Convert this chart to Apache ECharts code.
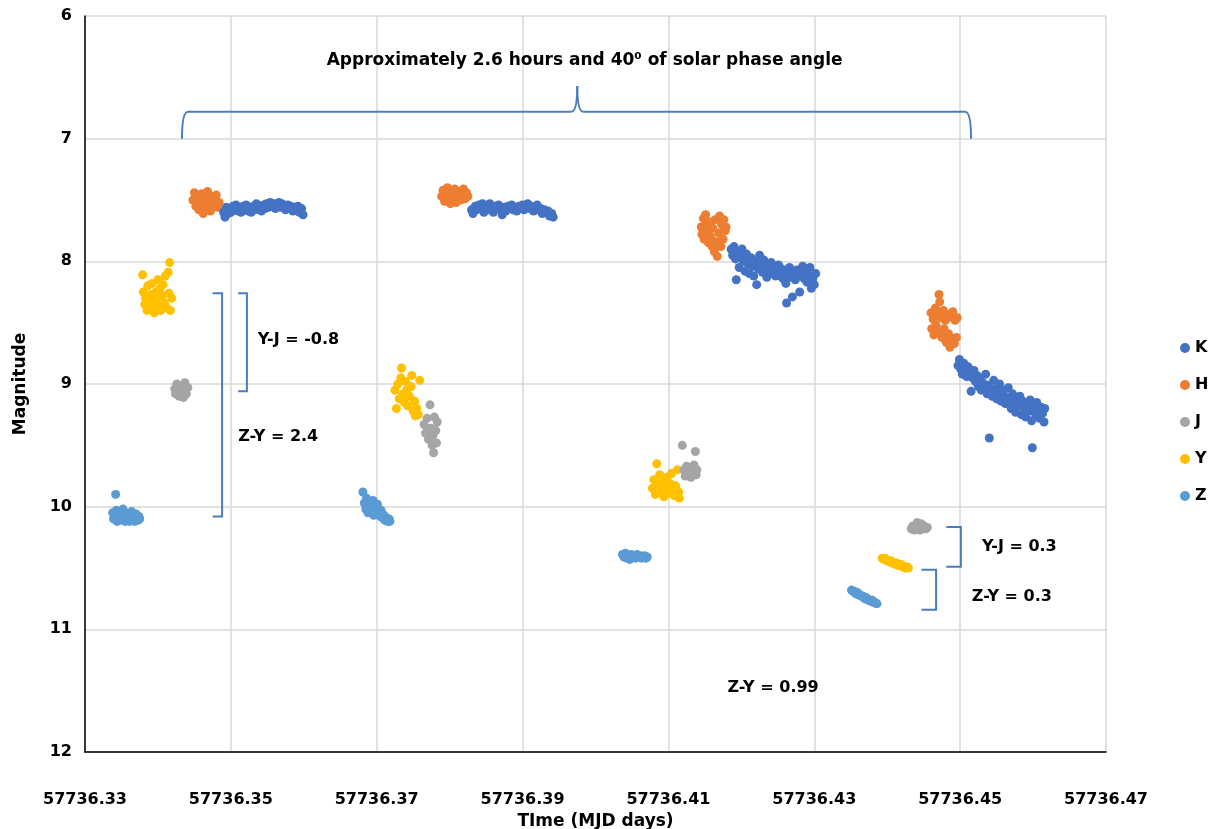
<!DOCTYPE html>
<html>
<head>
<meta charset="utf-8">
<script src="https://cdn.jsdelivr.net/npm/echarts@6/dist/echarts.min.js"></script>
<style>
  html, body { margin: 0; padding: 0; background: #ffffff; }
  #chart { width: 1219px; height: 829px; }
</style>
</head>
<body>
<div id="chart"></div>
<script>
// Time origin for the x axis (MJD); points are plotted as offsets from it.
const MJD_BASE = 57736.33;
const xTickStep = 0.02;
const xSpan = 0.14;
const magMin = 6;
const magMax = 12;

const bandNames = ['K', 'H', 'J', 'Y', 'Z'];
const bandColors = ['#4472C4', '#ED7D31', '#A5A5A5', '#FFC000', '#5B9BD5'];

// [MJD, magnitude]
const K = [
  [57736.3490, 7.60], [57736.3492, 7.64], [57736.3494, 7.56], [57736.3496, 7.61], [57736.3498, 7.57],
  [57736.3500, 7.60], [57736.3503, 7.55], [57736.3505, 7.58], [57736.3507, 7.54], [57736.3510, 7.59],
  [57736.3512, 7.56], [57736.3514, 7.60], [57736.3517, 7.55], [57736.3519, 7.58], [57736.3521, 7.54],
  [57736.3524, 7.59], [57736.3526, 7.56], [57736.3528, 7.60], [57736.3531, 7.55], [57736.3533, 7.58],
  [57736.3535, 7.53], [57736.3538, 7.57], [57736.3540, 7.55], [57736.3542, 7.59], [57736.3545, 7.54],
  [57736.3547, 7.57], [57736.3549, 7.53], [57736.3552, 7.56], [57736.3554, 7.52], [57736.3556, 7.55],
  [57736.3559, 7.53], [57736.3561, 7.57], [57736.3563, 7.54], [57736.3566, 7.52], [57736.3568, 7.56],
  [57736.3570, 7.53], [57736.3573, 7.55], [57736.3575, 7.58], [57736.3578, 7.54], [57736.3580, 7.57],
  [57736.3582, 7.55], [57736.3585, 7.59], [57736.3587, 7.56], [57736.3590, 7.58], [57736.3592, 7.55],
  [57736.3594, 7.60], [57736.3597, 7.57], [57736.3599, 7.62],
  [57736.3830, 7.58], [57736.3832, 7.61], [57736.3835, 7.55], [57736.3837, 7.58], [57736.3840, 7.54],
  [57736.3842, 7.57], [57736.3845, 7.53], [57736.3847, 7.60], [57736.3850, 7.55], [57736.3852, 7.58],
  [57736.3855, 7.53], [57736.3857, 7.56], [57736.3860, 7.60], [57736.3862, 7.55], [57736.3865, 7.57],
  [57736.3867, 7.54], [57736.3870, 7.58], [57736.3872, 7.62], [57736.3875, 7.56], [57736.3877, 7.59],
  [57736.3880, 7.55], [57736.3882, 7.57], [57736.3885, 7.54], [57736.3887, 7.58], [57736.3890, 7.56],
  [57736.3892, 7.59], [57736.3895, 7.55], [57736.3897, 7.57], [57736.3900, 7.54], [57736.3902, 7.58],
  [57736.3905, 7.56], [57736.3907, 7.53], [57736.3910, 7.57], [57736.3912, 7.55], [57736.3915, 7.59],
  [57736.3917, 7.56], [57736.3920, 7.54], [57736.3922, 7.58], [57736.3925, 7.57], [57736.3927, 7.61],
  [57736.3930, 7.58], [57736.3932, 7.60], [57736.3935, 7.59], [57736.3937, 7.63], [57736.3940, 7.61],
  [57736.3942, 7.64],
  [57736.4186, 7.90], [57736.4188, 7.95], [57736.4190, 7.88], [57736.4192, 7.98], [57736.4193, 8.15],
  [57736.4195, 7.92], [57736.4197, 8.05], [57736.4199, 7.96], [57736.4201, 7.90], [57736.4203, 8.00],
  [57736.4205, 8.08], [57736.4207, 7.94], [57736.4209, 8.02], [57736.4211, 8.10], [57736.4213, 7.97],
  [57736.4215, 8.04], [57736.4217, 8.12], [57736.4219, 8.00], [57736.4221, 8.19], [57736.4223, 8.06],
  [57736.4225, 7.95], [57736.4227, 8.02], [57736.4229, 8.09], [57736.4231, 7.99], [57736.4233, 8.07],
  [57736.4235, 8.13], [57736.4237, 8.03], [57736.4239, 8.08], [57736.4241, 8.01], [57736.4243, 8.10],
  [57736.4245, 8.05], [57736.4247, 8.12], [57736.4249, 8.07], [57736.4251, 8.03], [57736.4253, 8.10],
  [57736.4255, 8.06], [57736.4257, 8.14], [57736.4259, 8.08], [57736.4261, 8.18], [57736.4262, 8.34],
  [57736.4264, 8.11], [57736.4266, 8.05], [57736.4268, 8.13], [57736.4270, 8.29], [57736.4272, 8.09],
  [57736.4274, 8.15], [57736.4276, 8.07], [57736.4278, 8.12], [57736.4280, 8.25], [57736.4282, 8.10],
  [57736.4284, 8.04], [57736.4286, 8.14], [57736.4288, 8.08], [57736.4290, 8.17], [57736.4292, 8.11],
  [57736.4294, 8.05], [57736.4296, 8.22], [57736.4298, 8.14], [57736.4300, 8.19], [57736.4302, 8.10],
  [57736.4497, 8.85], [57736.4499, 8.80], [57736.4501, 8.88], [57736.4503, 8.92], [57736.4505, 8.83],
  [57736.4507, 8.87], [57736.4509, 8.94], [57736.4511, 8.86], [57736.4513, 8.90], [57736.4515, 9.06],
  [57736.4517, 8.95], [57736.4519, 8.89], [57736.4521, 8.98], [57736.4523, 8.93], [57736.4525, 9.02],
  [57736.4527, 8.96], [57736.4529, 9.05], [57736.4531, 8.99], [57736.4533, 9.03], [57736.4535, 8.92],
  [57736.4537, 9.08], [57736.4539, 9.01], [57736.4540, 9.44], [57736.4542, 9.06], [57736.4544, 9.10],
  [57736.4546, 8.97], [57736.4548, 9.04], [57736.4550, 9.12], [57736.4552, 9.07], [57736.4554, 9.00],
  [57736.4556, 9.14], [57736.4558, 9.09], [57736.4560, 9.05], [57736.4562, 9.16], [57736.4564, 9.11],
  [57736.4566, 9.03], [57736.4568, 9.13], [57736.4570, 9.20], [57736.4572, 9.08], [57736.4574, 9.15],
  [57736.4576, 9.23], [57736.4578, 9.12], [57736.4580, 9.18], [57736.4582, 9.10], [57736.4584, 9.25],
  [57736.4586, 9.14], [57736.4588, 9.19], [57736.4590, 9.27], [57736.4592, 9.16], [57736.4594, 9.22],
  [57736.4596, 9.13], [57736.4598, 9.30], [57736.4599, 9.52], [57736.4601, 9.18], [57736.4603, 9.24],
  [57736.4605, 9.15], [57736.4607, 9.21], [57736.4609, 9.28], [57736.4611, 9.19], [57736.4613, 9.24],
  [57736.4615, 9.31], [57736.4616, 9.20]
];

const H = [
  [57736.3448, 7.50], [57736.3450, 7.44], [57736.3452, 7.55], [57736.3454, 7.47], [57736.3456, 7.58],
  [57736.3458, 7.52], [57736.3460, 7.45], [57736.3462, 7.61], [57736.3464, 7.49], [57736.3466, 7.55],
  [57736.3468, 7.43], [57736.3470, 7.52], [57736.3472, 7.59], [57736.3474, 7.47], [57736.3476, 7.54],
  [57736.3478, 7.50], [57736.3480, 7.46], [57736.3482, 7.56], [57736.3484, 7.52],
  [57736.3789, 7.47], [57736.3791, 7.42], [57736.3793, 7.51], [57736.3795, 7.45], [57736.3797, 7.40],
  [57736.3799, 7.49], [57736.3801, 7.53], [57736.3803, 7.44], [57736.3805, 7.48], [57736.3807, 7.41],
  [57736.3809, 7.52], [57736.3811, 7.46], [57736.3813, 7.43], [57736.3815, 7.50], [57736.3817, 7.47],
  [57736.3819, 7.41], [57736.3821, 7.49], [57736.3823, 7.44], [57736.3825, 7.47],
  [57736.4145, 7.72], [57736.4146, 7.78], [57736.4148, 7.65], [57736.4149, 7.82], [57736.4151, 7.62],
  [57736.4152, 7.70], [57736.4154, 7.75], [57736.4155, 7.85], [57736.4157, 7.68], [57736.4158, 7.80],
  [57736.4160, 7.88], [57736.4161, 7.73], [57736.4163, 7.92], [57736.4164, 7.66], [57736.4166, 7.84],
  [57736.4167, 7.96], [57736.4169, 7.77], [57736.4170, 7.63], [57736.4172, 7.88], [57736.4173, 7.70],
  [57736.4175, 7.82], [57736.4176, 7.66], [57736.4178, 7.75], [57736.4179, 7.72],
  [57736.4460, 8.42], [57736.4461, 8.55], [57736.4463, 8.47], [57736.4464, 8.60], [57736.4466, 8.38],
  [57736.4467, 8.52], [57736.4469, 8.44], [57736.4470, 8.58], [57736.4471, 8.27], [57736.4472, 8.33],
  [57736.4474, 8.46], [57736.4475, 8.62], [57736.4477, 8.40], [57736.4478, 8.55], [57736.4480, 8.48],
  [57736.4481, 8.66], [57736.4483, 8.43], [57736.4484, 8.59], [57736.4486, 8.70], [57736.4487, 8.45],
  [57736.4489, 8.63], [57736.4490, 8.41], [57736.4492, 8.67], [57736.4493, 8.48], [57736.4495, 8.62],
  [57736.4496, 8.46]
];

const J = [
  [57736.3423, 9.04], [57736.3424, 9.08], [57736.3426, 9.00], [57736.3428, 9.06], [57736.3429, 9.10],
  [57736.3431, 9.02], [57736.3432, 9.07], [57736.3434, 9.04], [57736.3435, 9.11], [57736.3437, 8.99],
  [57736.3438, 9.05], [57736.3439, 9.08], [57736.3441, 9.03],
  [57736.3765, 9.33], [57736.3767, 9.40], [57736.3769, 9.28], [57736.3771, 9.45], [57736.3773, 9.17],
  [57736.3774, 9.36], [57736.3776, 9.50], [57736.3777, 9.42], [57736.3778, 9.56], [57736.3779, 9.27],
  [57736.3781, 9.38], [57736.3782, 9.48], [57736.3783, 9.31],
  [57736.4119, 9.50], [57736.4121, 9.70], [57736.4123, 9.75], [57736.4125, 9.67], [57736.4127, 9.73],
  [57736.4129, 9.68], [57736.4131, 9.76], [57736.4133, 9.71], [57736.4135, 9.66], [57736.4137, 9.55],
  [57736.4138, 9.74], [57736.4139, 9.70],
  [57736.4433, 10.18], [57736.4435, 10.16], [57736.4437, 10.19], [57736.4439, 10.15], [57736.4441, 10.13],
  [57736.4443, 10.17], [57736.4445, 10.19], [57736.4447, 10.14], [57736.4449, 10.18], [57736.4451, 10.16],
  [57736.4453, 10.18], [57736.4455, 10.17]
];

const Y = [
  [57736.3379, 8.11], [57736.3380, 8.25], [57736.3382, 8.35], [57736.3383, 8.30], [57736.3385, 8.40],
  [57736.3386, 8.20], [57736.3388, 8.33], [57736.3389, 8.38], [57736.3391, 8.27], [57736.3392, 8.18],
  [57736.3394, 8.36], [57736.3395, 8.42], [57736.3397, 8.25], [57736.3398, 8.31], [57736.3400, 8.15],
  [57736.3401, 8.37], [57736.3403, 8.22], [57736.3404, 8.40], [57736.3406, 8.28], [57736.3407, 8.19],
  [57736.3409, 8.34], [57736.3410, 8.12], [57736.3412, 8.38], [57736.3414, 8.09], [57736.3415, 8.26],
  [57736.3416, 8.01], [57736.3417, 8.40], [57736.3419, 8.30],
  [57736.3725, 9.05], [57736.3727, 9.20], [57736.3729, 9.00], [57736.3731, 9.12], [57736.3733, 8.95],
  [57736.3734, 8.87], [57736.3736, 9.08], [57736.3738, 9.15], [57736.3740, 8.98], [57736.3741, 9.05],
  [57736.3743, 9.18], [57736.3745, 9.10], [57736.3747, 9.02], [57736.3748, 8.93], [57736.3750, 9.22],
  [57736.3752, 9.14], [57736.3753, 9.26], [57736.3755, 9.20], [57736.3757, 9.25], [57736.3759, 8.97],
  [57736.4078, 9.85], [57736.4080, 9.78], [57736.4082, 9.90], [57736.4084, 9.65], [57736.4086, 9.82],
  [57736.4088, 9.74], [57736.4090, 9.88], [57736.4092, 9.79], [57736.4094, 9.92], [57736.4096, 9.84],
  [57736.4098, 9.76], [57736.4100, 9.89], [57736.4102, 9.81], [57736.4104, 9.73], [57736.4106, 9.86],
  [57736.4108, 9.91], [57736.4110, 9.83], [57736.4112, 9.70], [57736.4114, 9.88], [57736.4115, 9.93],
  [57736.4393, 10.42], [57736.4395, 10.43], [57736.4397, 10.42], [57736.4399, 10.44], [57736.4401, 10.44],
  [57736.4403, 10.45], [57736.4405, 10.44], [57736.4407, 10.46], [57736.4409, 10.46], [57736.4411, 10.47],
  [57736.4413, 10.46], [57736.4415, 10.48], [57736.4417, 10.48], [57736.4419, 10.47], [57736.4421, 10.49],
  [57736.4423, 10.49], [57736.4425, 10.50], [57736.4427, 10.49], [57736.4429, 10.50]
];

const Z = [
  [57736.3338, 10.05], [57736.3339, 10.10], [57736.3341, 10.08], [57736.3342, 9.90], [57736.3343, 10.03],
  [57736.3344, 10.12], [57736.3346, 10.07], [57736.3347, 10.10], [57736.3349, 10.04], [57736.3350, 10.11],
  [57736.3352, 10.02], [57736.3353, 10.08], [57736.3355, 10.12], [57736.3356, 10.05], [57736.3358, 10.10],
  [57736.3359, 10.07], [57736.3361, 10.12], [57736.3362, 10.09], [57736.3364, 10.04], [57736.3365, 10.11],
  [57736.3367, 10.08], [57736.3368, 10.12], [57736.3370, 10.06], [57736.3371, 10.10], [57736.3373, 10.11],
  [57736.3374, 10.08], [57736.3375, 10.10],
  [57736.3681, 9.88], [57736.3683, 9.97], [57736.3685, 10.02], [57736.3686, 9.93], [57736.3688, 10.05],
  [57736.3690, 9.96], [57736.3691, 10.00], [57736.3693, 10.04], [57736.3695, 9.95], [57736.3696, 10.07],
  [57736.3698, 10.01], [57736.3700, 10.04], [57736.3701, 9.98], [57736.3703, 10.06], [57736.3705, 10.08],
  [57736.3706, 10.03], [57736.3708, 10.09], [57736.3710, 10.07], [57736.3711, 10.11], [57736.3713, 10.09],
  [57736.3715, 10.12], [57736.3717, 10.10], [57736.3718, 10.12],
  [57736.4037, 10.39], [57736.4039, 10.41], [57736.4041, 10.38], [57736.4043, 10.42], [57736.4045, 10.40],
  [57736.4047, 10.43], [57736.4049, 10.39], [57736.4051, 10.41], [57736.4053, 10.40], [57736.4055, 10.42],
  [57736.4057, 10.39], [57736.4059, 10.41], [57736.4061, 10.40], [57736.4063, 10.42], [57736.4065, 10.41],
  [57736.4067, 10.40], [57736.4069, 10.42], [57736.4071, 10.41],
  [57736.4351, 10.68], [57736.4353, 10.69], [57736.4355, 10.69], [57736.4357, 10.71], [57736.4359, 10.70],
  [57736.4361, 10.72], [57736.4363, 10.72], [57736.4365, 10.73], [57736.4367, 10.73], [57736.4369, 10.75],
  [57736.4371, 10.74], [57736.4373, 10.76], [57736.4375, 10.76], [57736.4377, 10.77], [57736.4379, 10.76],
  [57736.4381, 10.78], [57736.4383, 10.78], [57736.4385, 10.79], [57736.4386, 10.79]
];

// Colour-index brackets: vertical stroke at t, serifs reaching back to tip, from/to in magnitudes.
const brackets = [
  { label: 'Y-J = -0.8', t: 57736.3522, tip: 57736.3510, from: 8.26, to: 9.06, textT: 57736.3537, textM: 8.64 },
  { label: 'Z-Y = 2.4', t: 57736.3488, tip: 57736.3475, from: 8.26, to: 10.08, textT: 57736.3510, textM: 9.43 },
  { label: 'Y-J = 0.3', t: 57736.4501, tip: 57736.4481, from: 10.165, to: 10.49, textT: 57736.4530, textM: 10.33 },
  { label: 'Z-Y = 0.3', t: 57736.4467, tip: 57736.4447, from: 10.515, to: 10.84, textT: 57736.4516, textM: 10.735 }
];
const notes = [
  { label: 'Z-Y = 0.99', t: 57736.4181, m: 11.48 }
];
// Curly brace spanning the whole observing run.
const span = {
  label: 'Approximately 2.6 hours and 40\u2070 of solar phase angle',
  start: 57736.3433, end: 57736.4515, mid: 57736.3975,
  level: 6.78, foot: 7.0, peak: 6.57, textT: 57736.3985, textM: 6.36
};

const FONT = "'DejaVu Sans', sans-serif";
const ANNOT_FONT = "bold 16px 'DejaVu Sans', sans-serif";
const SPAN_FONT = "bold 17px 'DejaVu Sans', sans-serif";
const ANNOT_COLOR = '#4A7EBB';

const toPlot = pts => pts.map(p => [p[0] - MJD_BASE, p[1]]);
const bandData = [K, H, J, Y, Z];

const chart = echarts.init(document.getElementById('chart'), null, { renderer: 'canvas' });

chart.setOption({
  animation: false,
  backgroundColor: '#ffffff',
  grid: { left: 85, top: 16, right: 113, bottom: 77, containLabel: false, outerBoundsMode: 'none' },
  xAxis: {
    type: 'value',
    min: 0, max: xSpan, interval: xTickStep,
    name: 'TIme (MJD days)',
    nameLocation: 'middle', nameGap: 58,
    nameTextStyle: { fontFamily: FONT, fontWeight: 'bold', fontSize: 17, color: '#000' },
    axisLine: { onZero: false, lineStyle: { color: '#000', width: 1.5 } },
    axisTick: { show: false },
    axisLabel: {
      margin: 40, fontFamily: FONT, fontWeight: 'bold', fontSize: 16, color: '#000',
      formatter: v => (MJD_BASE + v).toFixed(2)
    },
    splitLine: { show: true, lineStyle: { color: '#D9D9D9', width: 1.5 } }
  },
  yAxis: {
    type: 'value', inverse: true,
    min: magMin, max: magMax, interval: 1,
    name: 'Magnitude',
    nameLocation: 'middle', nameGap: 56, nameRotate: 90,
    nameTextStyle: { fontFamily: FONT, fontWeight: 'bold', fontSize: 17, color: '#000' },
    axisLine: { show: true, onZero: false, lineStyle: { color: '#000', width: 1.5 } },
    axisTick: { show: false },
    axisLabel: { margin: 13, fontFamily: FONT, fontWeight: 'bold', fontSize: 16, color: '#000' },
    splitLine: { show: true, lineStyle: { color: '#D9D9D9', width: 1.5 } }
  },
  legend: {
    orient: 'vertical', left: 1175, top: 335,
    itemWidth: 10, itemHeight: 10, itemGap: 21,
    icon: 'circle',
    textStyle: { fontFamily: FONT, fontWeight: 'bold', fontSize: 16, color: '#000', lineHeight: 16 },
    data: bandNames
  },
  series: bandNames.map((name, i) => ({
    name, type: 'scatter',
    data: toPlot(bandData[i]),
    symbol: 'circle', symbolSize: 9,
    itemStyle: { color: bandColors[i], opacity: 1 },
    z: 3 + (bandNames.length - i)
  }))
});

function px(t, m) {
  return chart.convertToPixel({ gridIndex: 0 }, [t - MJD_BASE, m]);
}

const strokeStyle = { stroke: ANNOT_COLOR, lineWidth: 2, fill: null };

function buildAnnotations() {
  const els = [];
  brackets.forEach(b => {
    const top = px(b.t, b.from), bot = px(b.t, b.to), tip = px(b.tip, b.from);
    els.push({
      type: 'polyline', z: 20,
      shape: { points: [[tip[0], top[1]], [top[0], top[1]], [bot[0], bot[1]], [tip[0], bot[1]]] },
      style: strokeStyle
    });
    const tp = px(b.textT, b.textM);
    els.push({
      type: 'text', z: 20, x: tp[0], y: tp[1],
      style: { text: b.label, font: ANNOT_FONT, fill: '#000', align: 'left', verticalAlign: 'middle' }
    });
  });
  notes.forEach(n => {
    const p = px(n.t, n.m);
    els.push({
      type: 'text', z: 20, x: p[0], y: p[1],
      style: { text: n.label, font: ANNOT_FONT, fill: '#000', align: 'left', verticalAlign: 'middle' }
    });
  });

  // Brace: curved feet, straight arms, pointed centre.
  const L = px(span.start, span.foot), R = px(span.end, span.foot);
  const lv = px(span.mid, span.level), pk = px(span.mid, span.peak);
  const r = 6, yL = lv[1], mx = lv[0];
  const curve = (x1, y1, cx, cy, x2, y2) => ({
    type: 'bezierCurve', z: 20,
    shape: { x1, y1, x2, y2, cpx1: cx, cpy1: cy },
    style: strokeStyle
  });
  const seg = (x1, y1, x2, y2) => ({
    type: 'line', z: 20, shape: { x1, y1, x2, y2 }, style: strokeStyle
  });
  els.push(curve(L[0], L[1], L[0], yL, L[0] + r, yL));
  els.push(seg(L[0] + r, yL, mx - r, yL));
  els.push(curve(mx - r, yL, mx, yL, mx, pk[1]));
  els.push(curve(mx, pk[1], mx, yL, mx + r, yL));
  els.push(seg(mx + r, yL, R[0] - r, yL));
  els.push(curve(R[0] - r, yL, R[0], yL, R[0], R[1]));

  const tp = px(span.textT, span.textM);
  els.push({
    type: 'text', z: 20, x: tp[0], y: tp[1],
    style: { text: span.label, font: SPAN_FONT, fill: '#000', align: 'center', verticalAlign: 'middle' }
  });
  return els;
}

chart.setOption({ graphic: { elements: buildAnnotations() } });
</script>
</body>
</html>
